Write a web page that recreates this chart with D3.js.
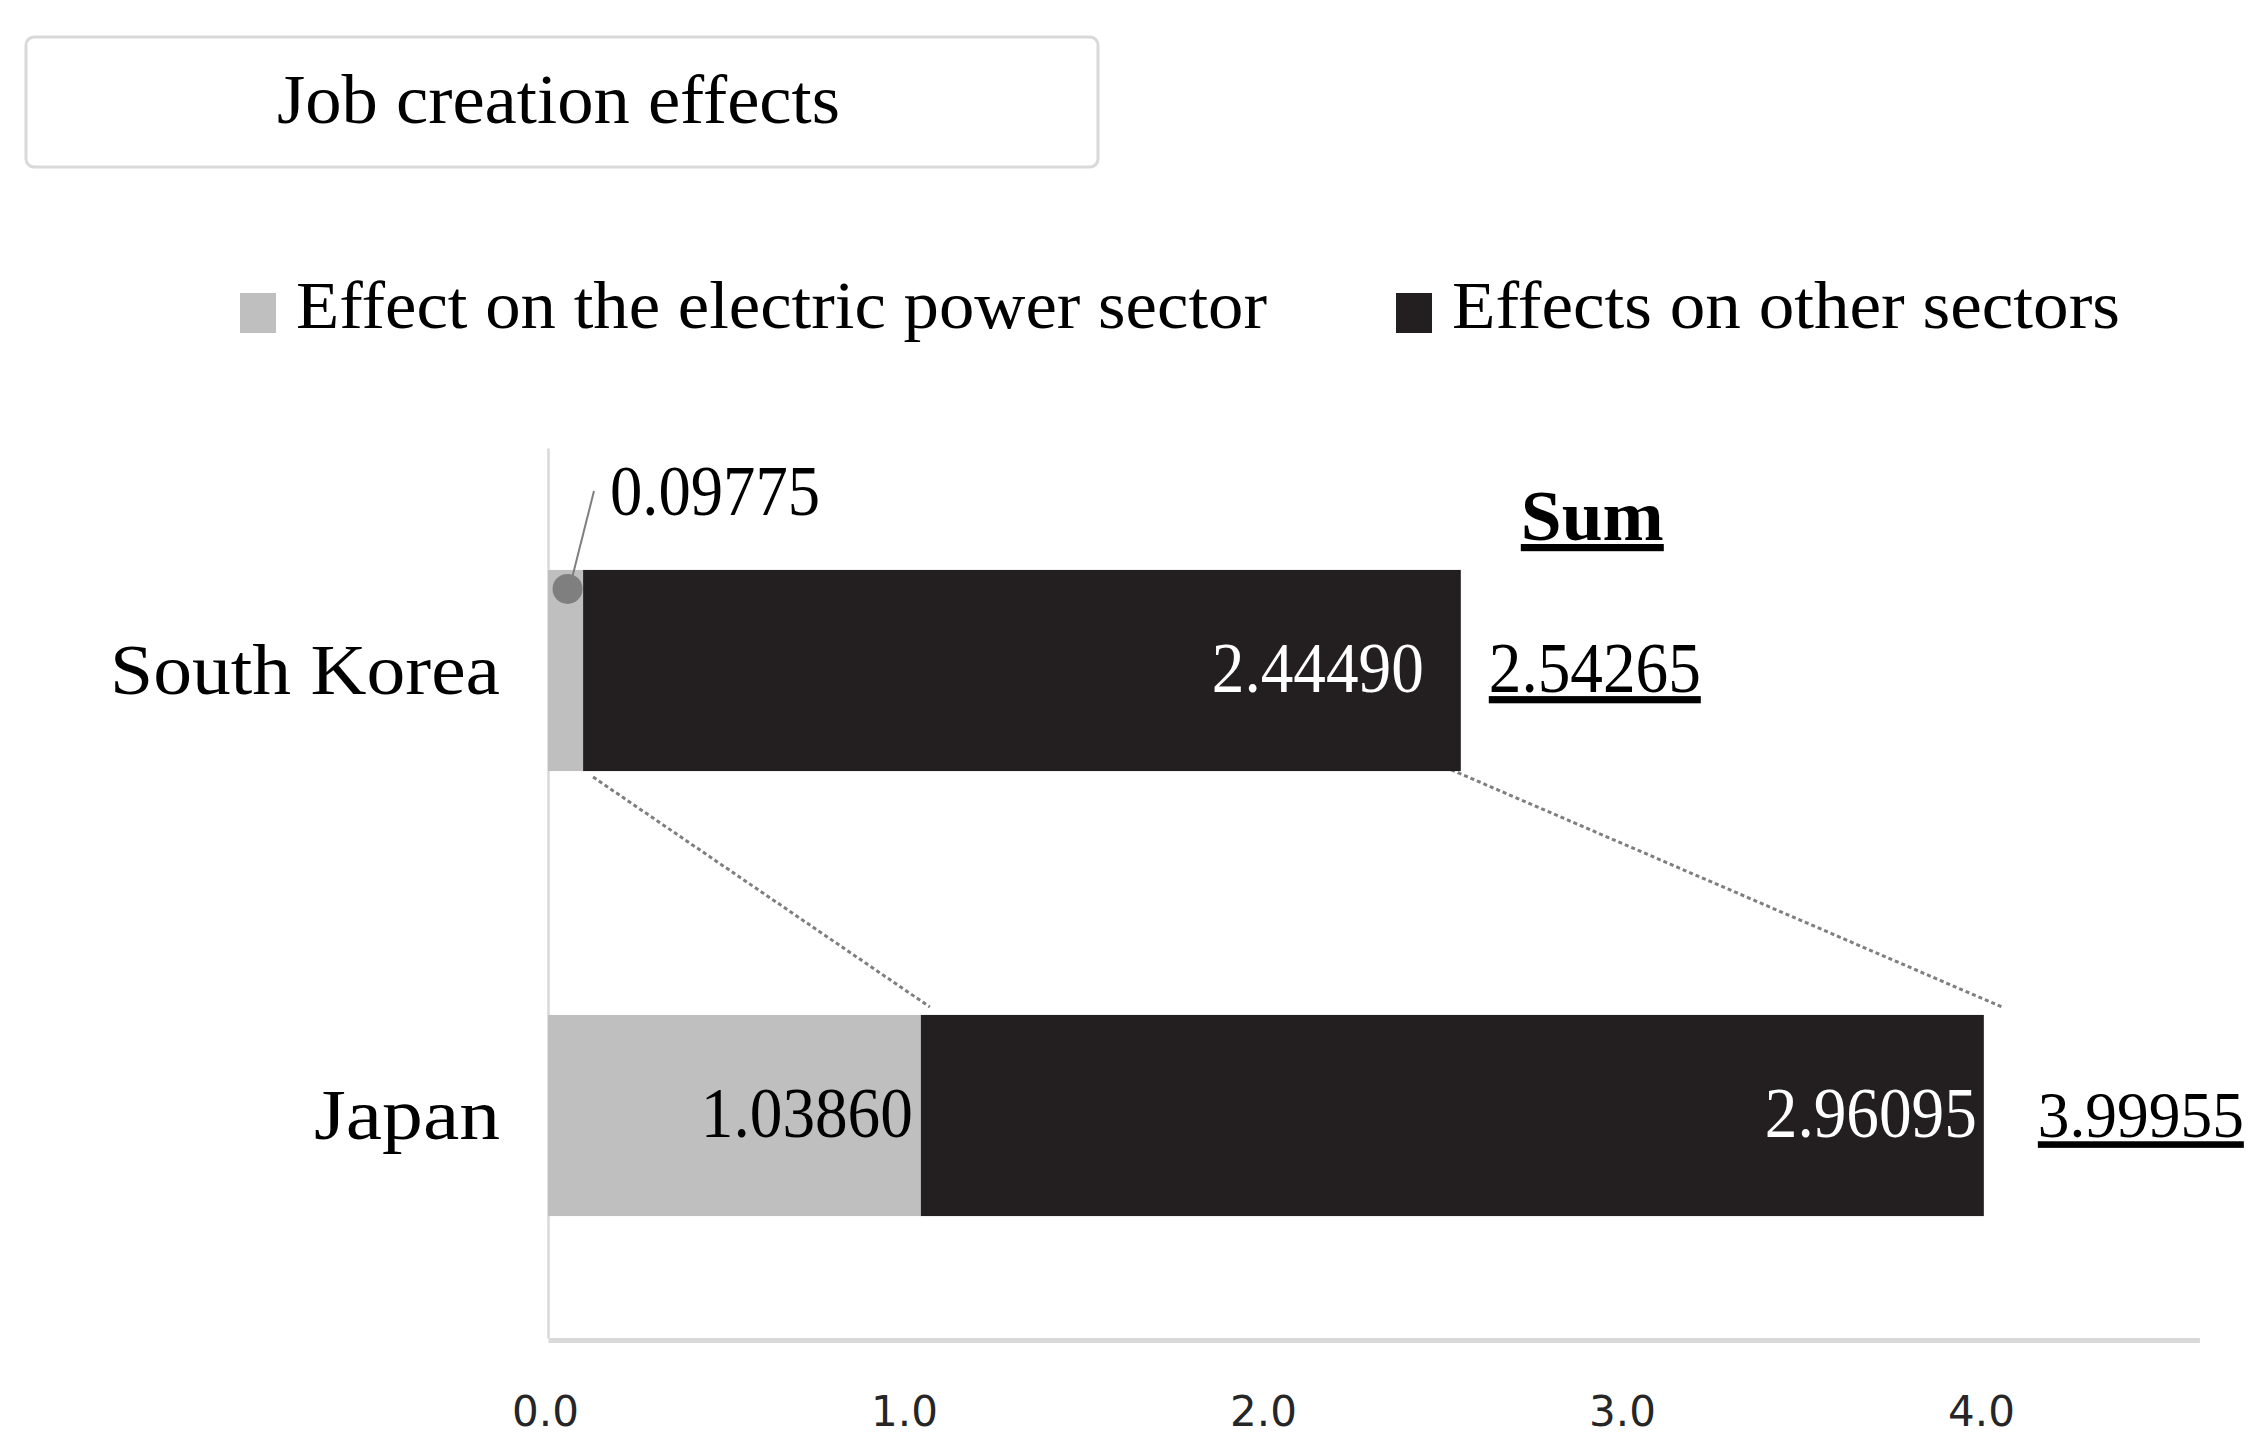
<!DOCTYPE html>
<html>
<head>
<meta charset="utf-8">
<script src="https://cdn.jsdelivr.net/npm/d3@7"></script>
<style>
  body { margin: 0; background: #fff; }
  svg { display: block; }
</style>
</head>
<body>
<div id="chart"></div>
<script>
const width = 2266, height = 1440;

// Data
const countries = ["South Korea", "Japan"];
const seriesNames = ["Effect on the electric power sector", "Effects on other sectors"];
const powerSector = [0.09775, 1.03860];
const otherSectors = [2.44490, 2.96095];
const totals = [2.54265, 3.99955];
const xTicks = [0, 1, 2, 3, 4];
const titleText = "Job creation effects";
const sumText = "Sum";

const colors = ["#bfbfbf", "#231f20"];
const serif = "'Liberation Serif', 'DejaVu Serif', serif";
const fmt = d3.format(".5f");

const svg = d3.select("#chart").append("svg")
    .attr("width", width)
    .attr("height", height);

// Title box
svg.append("rect")
    .attr("x", 26).attr("y", 37)
    .attr("width", 1072).attr("height", 130)
    .attr("rx", 8)
    .style("fill", "#fff")
    .style("stroke", "#d9d9d9")
    .style("stroke-width", 3);

svg.append("text")
    .attr("x", 277).attr("y", 123)
    .attr("textLength", 563)
    .attr("lengthAdjust", "spacingAndGlyphs")
    .style("font-family", serif)
    .style("font-size", "70px")
    .style("fill", "#000")
    .text(titleText);

// Legend
const legendX = [240, 1396];
const legendW = [971, 668];
seriesNames.forEach((name, i) => {
    svg.append("rect")
        .attr("x", legendX[i]).attr("y", 293)
        .attr("width", 36).attr("height", 40)
        .style("fill", colors[i]);
    svg.append("text")
        .attr("x", legendX[i] + 56).attr("y", 328)
        .attr("textLength", legendW[i])
        .attr("lengthAdjust", "spacingAndGlyphs")
        .style("font-family", serif)
        .style("font-size", "68px")
        .text(name);
});

// Scales
const x = d3.scaleLinear()
    .domain([0, 4.6])
    .range([548, 548 + 4.6 * 359]);

const y = d3.scaleBand()
    .domain(countries)
    .range([448, 1338])
    .paddingInner(0.548)
    .paddingOuter(0.274);

// Axes
const xAxis = svg.append("g")
    .attr("transform", `translate(0,1340)`)
    .call(d3.axisBottom(x).tickValues(xTicks).tickFormat(d3.format(".1f")).tickSize(0).tickSizeOuter(0));
xAxis.select(".domain")
    .style("stroke", "#d9d9d9")
    .style("stroke-width", 5);
xAxis.selectAll("text")
    .attr("x", -3)
    .attr("y", 86)
    .attr("dy", 0)
    .style("font-family", "'DejaVu Sans', sans-serif")
    .style("font-size", "42px")
    .style("fill", "#262626");

const yAxis = svg.append("g")
    .attr("transform", `translate(${x(0)},0)`)
    .call(d3.axisLeft(y).tickSize(0).tickSizeOuter(0).tickPadding(48));
yAxis.select(".domain")
    .style("stroke", "#d9d9d9")
    .style("stroke-width", 2.5);
const catWidths = [390, 186];
yAxis.selectAll("text")
    .attr("dy", "0.32em")
    .attr("textLength", (d, i) => catWidths[i])
    .attr("lengthAdjust", "spacingAndGlyphs")
    .style("font-family", serif)
    .style("font-size", "72px")
    .style("fill", "#000");

// Stacked bars
const table = countries.map((c, i) => ({ country: c, power: powerSector[i], other: otherSectors[i] }));
const stack = d3.stack().keys(["power", "other"])(table);

// Dotted connectors between the two bars
const bandTop = c => y(c);
const bandBottom = c => y(c) + y.bandwidth();
const connectors = [
    { x1: x(powerSector[0]) + 10, y1: bandBottom(countries[0]) + 6, x2: x(powerSector[1]) + 9, y2: bandTop(countries[1]) - 8 },
    { x1: x(totals[0]) - 16, y1: bandBottom(countries[0]) - 4, x2: x(totals[1]) + 18, y2: bandTop(countries[1]) - 8 }
];
svg.selectAll(".connector")
    .data(connectors)
    .join("line")
    .attr("class", "connector")
    .attr("x1", d => d.x1).attr("y1", d => d.y1)
    .attr("x2", d => d.x2).attr("y2", d => d.y2)
    .style("stroke", "#7f7f7f")
    .style("stroke-width", 3)
    .style("stroke-dasharray", "4 3");

svg.selectAll(".series")
    .data(stack)
    .join("g")
    .attr("class", "series")
    .style("fill", (d, i) => colors[i])
    .selectAll("rect")
    .data(d => d)
    .join("rect")
    .attr("x", d => x(d[0]))
    .attr("y", d => y(d.data.country))
    .attr("width", d => x(d[1]) - x(d[0]))
    .attr("height", y.bandwidth());

// Value labels inside bars (right aligned)
const insideLabels = [
    { v: otherSectors[0], end: totals[0], c: countries[0], pad: 37, color: "#fff" },
    { v: powerSector[1], end: powerSector[1], c: countries[1], pad: 8, color: "#000" },
    { v: otherSectors[1], end: totals[1], c: countries[1], pad: 7, color: "#fff" }
];
svg.selectAll(".inlabel")
    .data(insideLabels)
    .join("text")
    .attr("class", "inlabel")
    .attr("x", d => x(d.end) - d.pad)
    .attr("y", d => y(d.c) + y.bandwidth() / 2)
    .attr("dy", "0.3em")
    .attr("text-anchor", "end")
    .attr("textLength", 212)
    .attr("lengthAdjust", "spacingAndGlyphs")
    .style("font-family", serif)
    .style("font-size", "72px")
    .style("fill", d => d.color)
    .text(d => fmt(d.v));

// Callout for the small South Korea value
const dotX = x(powerSector[0] / 2) + 2;
const dotY = bandTop(countries[0]) + 19;
svg.append("line")
    .attr("x1", dotX + 3).attr("y1", dotY - 5)
    .attr("x2", 594).attr("y2", 491)
    .style("stroke", "#7f7f7f")
    .style("stroke-width", 2);
svg.append("circle")
    .attr("cx", dotX).attr("cy", dotY)
    .attr("r", 15)
    .style("fill", "#7f7f7f");
svg.append("text")
    .attr("x", 610).attr("y", 515)
    .attr("textLength", 210)
    .attr("lengthAdjust", "spacingAndGlyphs")
    .style("font-family", serif)
    .style("font-size", "72px")
    .text(fmt(powerSector[0]));

// Sum labels (underlined)
const sumGap = [28, 54];
const sumW = [212, 206];
const sumSize = [72, 66];
svg.selectAll(".sumlabel")
    .data(totals)
    .join("text")
    .attr("class", "sumlabel")
    .attr("x", (d, i) => x(d) + sumGap[i])
    .attr("y", (d, i) => y(countries[i]) + y.bandwidth() / 2)
    .attr("dy", (d, i) => i ? "0.33em" : "0.3em")
    .attr("textLength", (d, i) => sumW[i])
    .attr("lengthAdjust", "spacingAndGlyphs")
    .style("font-family", serif)
    .style("font-size", (d, i) => sumSize[i] + "px")
    .style("text-decoration", "underline")
    .text(d => fmt(d));

svg.append("text")
    .attr("x", x(totals[0]) + 60).attr("y", 540)
    .attr("textLength", 143)
    .attr("lengthAdjust", "spacingAndGlyphs")
    .style("font-family", serif)
    .style("font-size", "72px")
    .style("font-weight", "bold")
    .style("text-decoration", "underline")
    .text(sumText);
</script>
</body>
</html>
